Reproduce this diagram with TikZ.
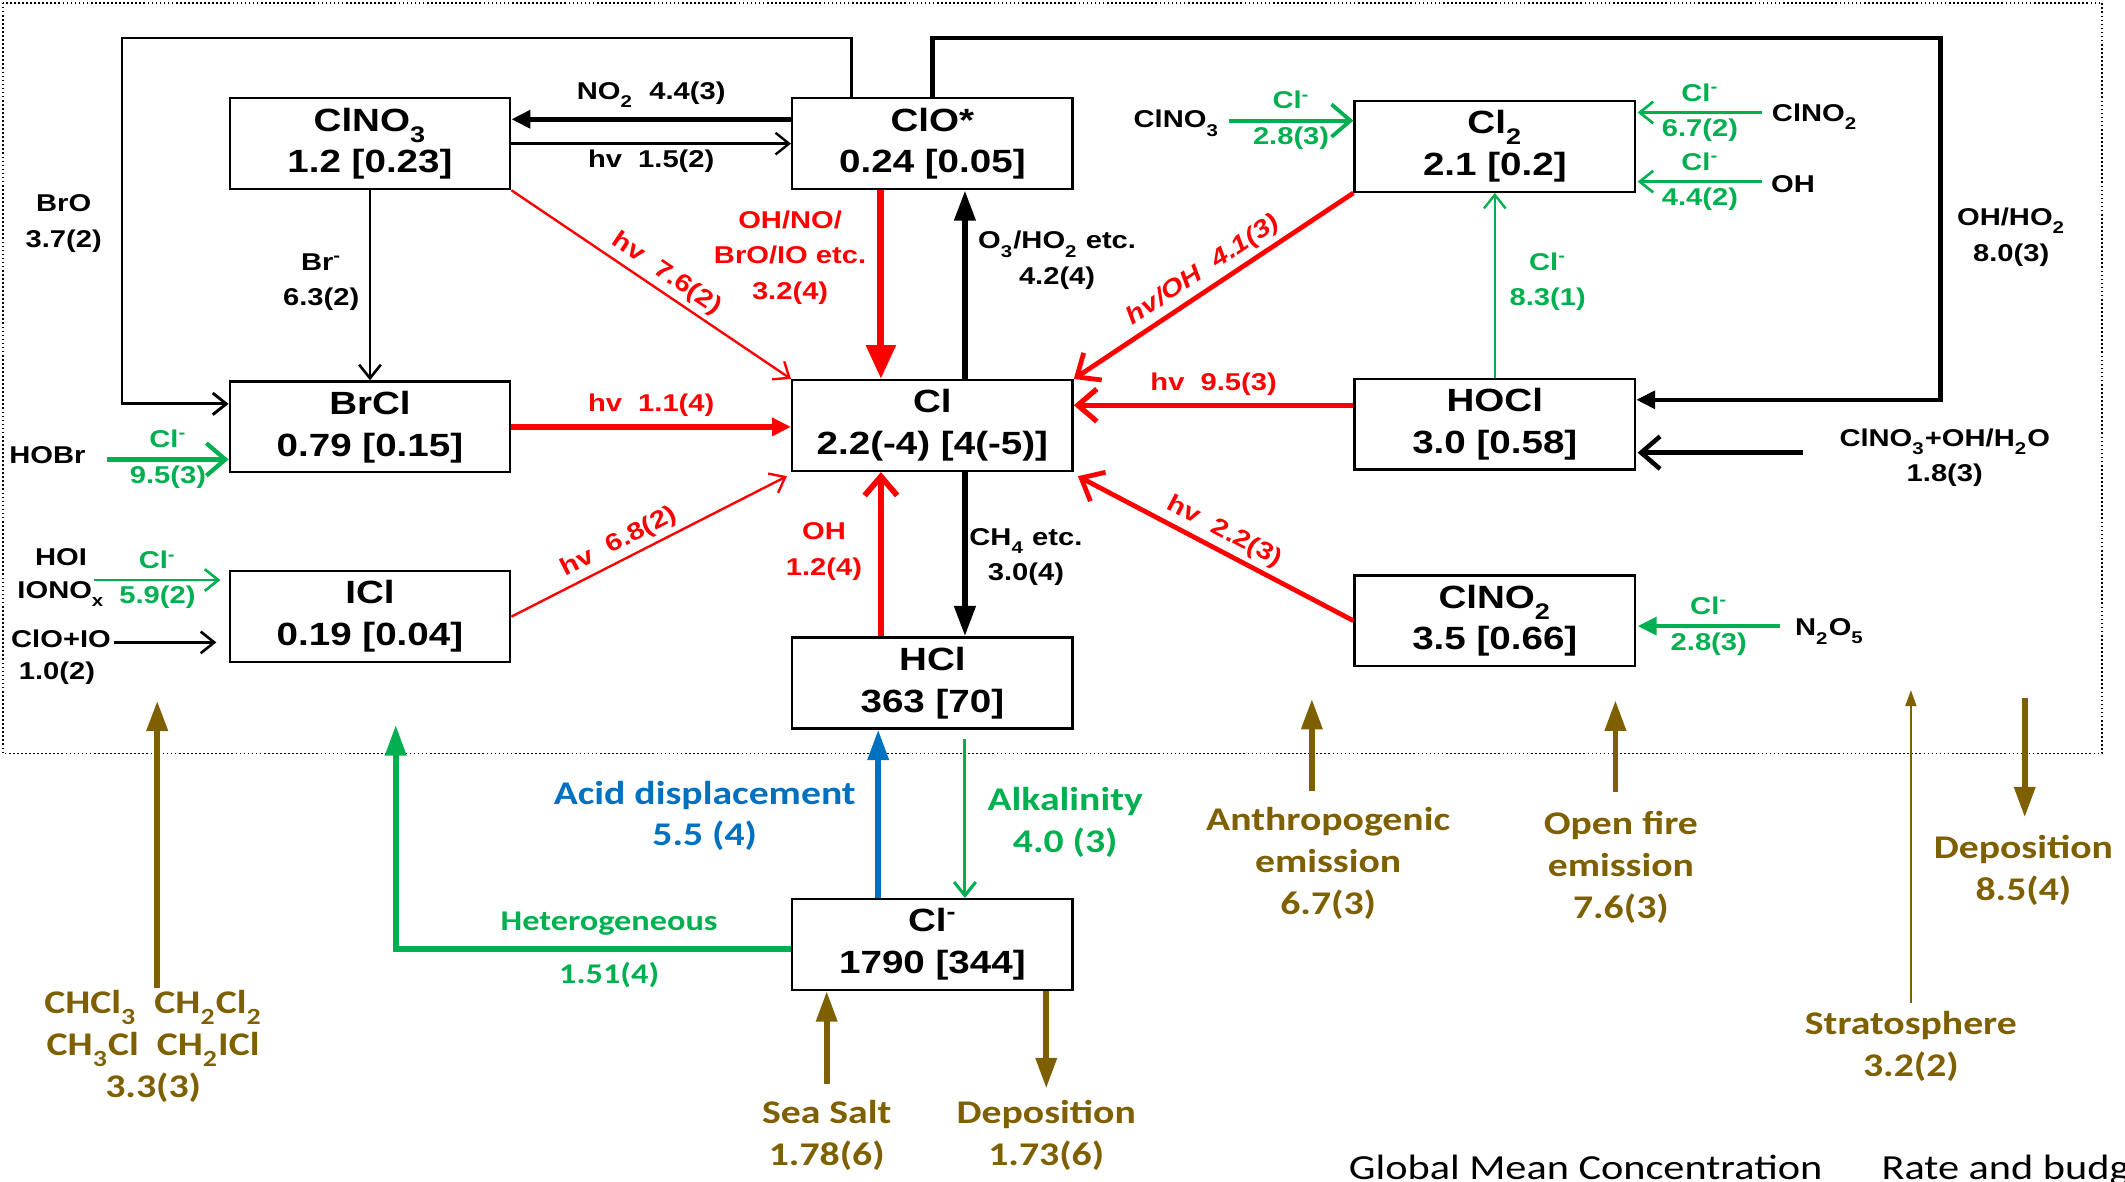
\documentclass[tikz,border=0pt]{standalone}
\usepackage{fontspec}
\usetikzlibrary{arrows.meta,calc}

\newfontfamily\arialfam[FakeStretch=1.2]{Liberation Sans}
\newfontfamily\califam[FakeStretch=1.2]{Carlito}
\newcommand\boxfont{\arialfam\bfseries\fontsize{13.5}{17.6}\selectfont}
\newcommand\labfont{\arialfam\bfseries\fontsize{10.2}{14.8}\selectfont}
\newcommand\brnfont{\califam\bfseries\fontsize{13.9}{17.5}\selectfont}
\newcommand\chsub[1]{\raisebox{-0.35ex}{\textsubscript{#1}}}
\newcommand\chsup[1]{\textsuperscript{#1}}
\newcommand\clm{Cl\chsup{-}}

\tikzset{
  box/.style={draw, line width=1pt, minimum width=4.14cm, minimum height=1.34cm,
    inner sep=0pt, align=center, font=\boxfont},
  lab/.style={font=\labfont, align=center, inner sep=1pt},
  brnlab/.style={font=\brnfont, align=center, text=brn, inner sep=1pt},
  barb/.style={-{Straight Barb[length=2mm,width=3.2mm]}},
  bigbarb/.style={-{Straight Barb[length=2.8mm,width=4.8mm]}},
  smalltri/.style={-{Triangle[length=2.8mm,width=2.6mm]}},
  tri/.style={-{Triangle[length=4.5mm,width=3mm]}},
  bigtri/.style={-{Triangle[length=5mm,width=4.2mm]}},
}

\begin{document}
\begin{tikzpicture}[x=0.02cm, y=-0.02cm]
  % Define colors
  \definecolor{clred}{RGB}{255,0,0}
  \definecolor{clgreen}{RGB}{0,176,80}
  \definecolor{clblue}{RGB}{0,112,192}
  \definecolor{brn}{RGB}{127,96,0}

  % Page size and dotted frame
  \useasboundingbox (0,0) rectangle (1568,872);
  \clip (0,0) rectangle (1568,872);
  \draw[densely dotted, line width=0.7pt] (2,2) rectangle (1551,556);

  % Species boxes
  \node[box] (clno3) at (273,106) {ClNO\chsub{3}\\1.2 [0.23]};
  \node[box] (clo) at (688,106) {ClO*\\0.24 [0.05]};
  \node[box] (cltwo) at (1103,108) {Cl\chsub{2}\\2.1 [0.2]};
  \node[box] (brcl) at (273,315) {BrCl\\0.79 [0.15]};
  \node[box] (cl) at (688,314) {Cl\\2.2(-4) [4(-5)]};
  \node[box] (hocl) at (1103,313) {HOCl\\3.0 [0.58]};
  \node[box] (icl) at (273,455) {ICl\\0.19 [0.04]};
  \node[box] (clnotwo) at (1103,458) {ClNO\chsub{2}\\3.5 [0.66]};
  \node[box] (hcl) at (688,504) {HCl\\363 [70]};
  \node[box] (clion) at (688,697) {\clm\\1790 [344]};

  % ClNO3 <-> ClO*
  \draw[smalltri, line width=1.9pt] ($(clo.west)+(0,-18)$) -- node[lab, above=3pt] {NO\chsub{2}~~4.4(3)} ($(clno3.east)+(0,-18)$);
  \draw[barb, line width=1pt] (clno3.east) -- node[lab, below=1pt] {hv~~1.5(2)} (clo.west);

  % BrO loop and Br- path into BrCl
  \coordinate (broturn) at (90,28);
  \draw[barb, line width=1.2pt] ($(clo.north)+(-60,0)$) |- (broturn) |- ($(brcl.west)+(0,-17)$);
  \node[lab] (lbro) at (47,165) {BrO\\3.7(2)};
  \draw[barb, line width=1.1pt] (clno3.south) -- (brcl.north);
  \node[lab] (lbrm) at (237,208) {Br\chsup{-}\\6.3(2)};

  % OH/HO2 loop into HOCl
  \coordinate (ohturn) at (1432,28);
  \draw[smalltri, line width=1.9pt] (clo.north) |- (ohturn) |- ($(hocl.east)+(0,-18)$);
  \node[lab] (lohho) at (1484,175) {OH/HO\chsub{2}\\8.0(3)};

  % ClO* <-> Cl
  \draw[bigtri, clred, line width=3pt] ($(clo.south)+(-38,0)$) -- ($(cl.north)+(-38,0)$);
  \node[lab, text=clred] (lohno) at (583,190) {OH/NO/\\BrO/IO etc.\\3.2(4)};
  \draw[tri, line width=2.6pt] ($(cl.north)+(24,0)$) -- ($(clo.south)+(24,0)$);
  \node[lab] (lothree) at (780,192) {O\chsub{3}/HO\chsub{2} etc.\\4.2(4)};

  % Photolysis into Cl
  \draw[barb, clred, line width=1pt] (clno3.south east) -- node[lab, sloped, above=1pt, pos=0.52] {hv~~7.6(2)} (cl.north west);
  \draw[bigbarb, clred, line width=2pt] (cltwo.south west) -- node[lab, sloped, above=1pt, pos=0.5, font=\labfont\itshape] {hv/OH~~4.1(3)} (cl.north east);
  \draw[bigbarb, clred, line width=2.2pt] ($(hocl.west)+(0,-14)$) -- node[lab, above=2pt] {hv~~9.5(3)} ($(cl.east)+(0,-15)$);
  \draw[bigbarb, clred, line width=2pt] (clnotwo.west) -- node[lab, sloped, above=1pt] {hv~~2.2(3)} ($(cl.south east)+(3,3)$);
  \draw[smalltri, clred, line width=2.4pt] (brcl.east) -- node[lab, above=2pt] {hv~~1.1(4)} (brcl.east -| cl.west);
  \draw[barb, clred, line width=1pt] (icl.east) -- node[lab, sloped, above=1pt, pos=0.42] {hv~~6.8(2)} ($(cl.south west)+(-3,3)$);

  % HCl <-> Cl
  \draw[bigbarb, clred, line width=2.4pt] ($(hcl.north)+(-38,0)$) -- ($(cl.south)+(-38,0)$);
  \node[lab, text=clred] (lohone) at (608,407) {OH\\1.2(4)};
  \draw[tri, line width=2.6pt] ($(cl.south)+(24,0)$) -- ($(hcl.north)+(24,0)$);
  \node[lab] (lchfour) at (757,411) {CH\chsub{4} etc.\\3.0(4)};

  % HOCl -> Cl2
  \draw[barb, clgreen, line width=1pt] (hocl.north) -- (cltwo.south);
  \node[lab, text=clgreen] (lcleight) at (1142,208) {\clm\\8.3(1)};

  % Cl- <-> HCl
  \draw[tri, clblue, line width=2.4pt] ($(clion.north)+(-40,0)$) -- ($(hcl.south)+(-40,0)$);
  \node[brnlab, text=clblue] (lacid) at (520,602) {Acid displacement\\5.5 (4)};
  \draw[barb, clgreen, line width=1.3pt, shorten <=4pt] ($(hcl.south)+(24,0)$) -- ($(clion.north)+(24,0)$);
  \node[brnlab, text=clgreen] (lalk) at (786,607) {Alkalinity\\4.0 (3)};

  % Heterogeneous release
  \coordinate (hettop) at (292,535);
  \draw[tri, clgreen, line width=2.4pt] ($(clion.west)+(0,3)$) -| node[pos=0.23, above=1pt, font=\califam\bfseries\fontsize{12}{13}\selectfont] {Heterogeneous}
      node[pos=0.23, below=1pt, font=\califam\bfseries\fontsize{12}{13}\selectfont] {1.51(4)} (hettop);

  % Inputs to BrCl and ICl
  \node[lab] (hobr) at (35,336) {HOBr};
  \draw[bigbarb, clgreen, line width=1.8pt] ($(hobr.east)+(14,3)$) -- node[lab, above=3pt] {\clm} node[lab, below=1pt] {9.5(3)} ($(brcl.west)+(0,24)$);
  \node[lab] (hoi) at (45,411) {HOI};
  \node[lab] (iono) at (45,438) {IONO\chsub{x}};
  \draw[barb, clgreen, line width=1.1pt] ($(icl.west)+(-99,-27)$) -- node[lab, above=3pt] {\clm} node[lab, below=1pt] {5.9(2)} ($(icl.west)+(-6,-27)$);
  \node[lab] (cloio) at (45,471) {ClO+IO};
  \node[lab] (lcloio) at (42,497) {1.0(2)};
  \draw[barb, line width=1.1pt] ($(cloio.east)+(0,3)$) -- ($(icl.west)+(-9,19)$);

  % Inputs to Cl2, HOCl and ClNO2
  \node[lab] (inclnothree) at (868,91) {ClNO\chsub{3}};
  \draw[bigbarb, clgreen, line width=1.6pt] ($(cltwo.west)+(-92,-19)$) -- node[lab, above=3pt] {\clm} node[lab, below=1pt] {2.8(3)} ($(cltwo.west)+(0,-19)$);
  \node[lab] (inclnotwo) at (1339,86) {ClNO\chsub{2}};
  \draw[barb, clgreen, line width=1.1pt] ($(cltwo.east)+(93,-25)$) -- node[lab, above=3pt] {\clm} node[lab, below=1pt] {6.7(2)} ($(cltwo.east)+(1,-25)$);
  \node[lab] (inoh) at (1323,136) {OH};
  \draw[barb, clgreen, line width=1.1pt] ($(cltwo.east)+(93,26)$) -- node[lab, above=3pt] {\clm} node[lab, below=1pt] {4.4(2)} ($(cltwo.east)+(1,26)$);
  \node[lab] (inhocl) at (1435,338) {ClNO\chsub{3}+OH/H\chsub{2}O\\1.8(3)};
  \draw[bigbarb, line width=1.9pt] ($(hocl.east)+(123,21)$) -- ($(hocl.east)+(1,21)$);
  \node[lab] (inntwo) at (1350,466) {N\chsub{2}O\chsub{5}};
  \draw[smalltri, clgreen, line width=1.9pt] ($(clnotwo.east)+(106,4)$) -- node[lab, above=3pt] {\clm} node[lab, below=1pt] {2.8(3)} ($(clnotwo.east)+(1,4)$);

  % Sources and sinks
  \node[brnlab] (lorg) at (113,772) {CHCl\chsub{3}~~CH\chsub{2}Cl\chsub{2}\\CH\chsub{3}Cl~~CH\chsub{2}ICl\\3.3(3)};
  \coordinate (orgtop) at (116,517);
  \draw[tri, brn, line width=2.6pt] (orgtop |- lorg.north) -- (orgtop);
  \node[brnlab] (lsea) at (610,838) {Sea Salt\\1.78(6)};
  \draw[tri, brn, line width=2.4pt] ($(lsea.north)+(0,-10)$) -- (lsea.north |- clion.south);
  \node[brnlab] (ldepa) at (772,838) {Deposition\\1.73(6)};
  \draw[tri, brn, line width=2.4pt] (ldepa.north |- clion.south) -- ($(ldepa.north)+(0,-7)$);
  \node[brnlab] (lanth) at (980,637) {Anthropogenic\\emission\\6.7(3)};
  \draw[tri, brn, line width=2.4pt] ($(lanth.north)+(-12,-10)$) -- ++(0,-68);
  \node[brnlab] (lfire) at (1196,640) {Open fire\\emission\\7.6(3)};
  \draw[tri, brn, line width=2.4pt] ($(lfire.north)+(-4,-12)$) -- ++(0,-68);
  \node[brnlab] (lstrat) at (1410,772) {Stratosphere\\3.2(2)};
  \draw[-{Triangle[length=2.4mm,width=1.6mm]}, brn, line width=1pt] ($(lstrat.north)+(0,-4)$) -- ++(0,-231);
  \node[brnlab] (ldepb) at (1493,642) {Deposition\\8.5(4)};
  \draw[tri, brn, line width=2.4pt] ($(ldepb.north)+(1,-99)$) -- ($(ldepb.north)+(1,-11)$);

  % Legend text at the bottom
  \node[font=\califam\fontsize{14.8}{16}\selectfont, anchor=base west, inner sep=0pt] (lgmc) at (995,870) {Global Mean Concentration};
  \node[font=\califam\fontsize{14.8}{16}\selectfont, anchor=base west, inner sep=0pt] (lrate) at (1388,870) {Rate and budg};
\end{tikzpicture}
\end{document}
